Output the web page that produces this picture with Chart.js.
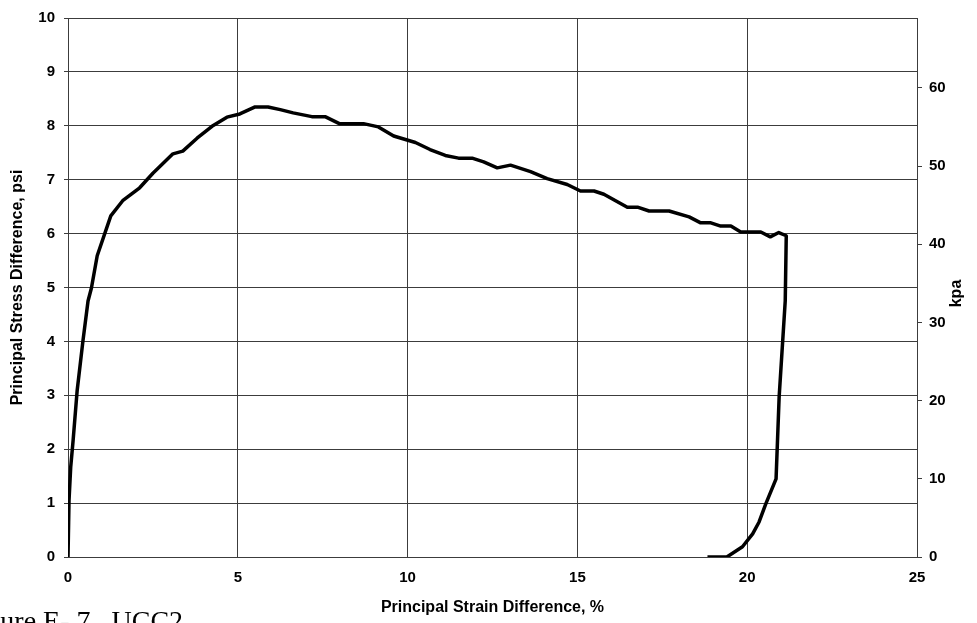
<!DOCTYPE html>
<html>
<head>
    <meta charset="UTF-8">
    <title>UCC2 stress-strain</title>
    <script src="https://cdn.jsdelivr.net/npm/chart.js"></script>
    <style>
        body { margin: 0; background: #fff; overflow: hidden; }
        #wrap { position: relative; width: 977px; height: 623px; overflow: hidden; }
        #caption {
            position: absolute; left: -37px; top: 607px;
            font-family: "Liberation Serif", serif; font-size: 28px; line-height: 28px;
            white-space: pre; color: #000;
        }
    </style>
</head>
<body>
    <div id="wrap">
        <canvas id="stressChart"></canvas>
        <div id="caption">Figure E- 7   UCC2</div>
    </div>

    <script>
        // strain (%) and principal stress difference (psi)
        var strain = [0, 0.03, 0.08, 0.15, 0.27, 0.44, 0.59, 0.69, 0.86, 1.26, 1.61, 2.11, 2.50, 3.09, 3.38,
            3.80, 4.24, 4.68, 5.06, 5.51, 5.89, 6.25, 6.63, 7.18, 7.57, 7.99, 8.70, 9.14, 9.59, 10.23,
            10.66, 11.11, 11.50, 11.90, 12.24, 12.64, 13.03, 13.62, 14.11, 14.70, 15.09, 15.49, 15.78,
            16.47, 16.77, 17.11, 17.70, 18.29, 18.63, 18.93, 19.22, 19.52, 19.81, 20.40, 20.68, 20.93,
            21.15, 21.12, 20.94, 20.85, 20.55, 20.35, 20.16, 19.86, 19.40, 18.83];
        var stress = [0, 1.05, 1.67, 2.16, 3.09, 4.01, 4.75, 4.99, 5.59, 6.33, 6.61, 6.85, 7.12, 7.48, 7.53,
            7.77, 7.99, 8.16, 8.22, 8.35, 8.35, 8.30, 8.24, 8.17, 8.17, 8.04, 8.04, 7.98, 7.81, 7.69,
            7.56, 7.45, 7.40, 7.40, 7.33, 7.22, 7.27, 7.15, 7.02, 6.91, 6.79, 6.79, 6.73,
            6.49, 6.49, 6.42, 6.42, 6.31, 6.20, 6.20, 6.14, 6.14, 6.03, 6.03, 5.94, 6.02,
            5.96, 4.75, 2.96, 1.45, 0.99, 0.65, 0.43, 0.19, 0, 0];

        var psiTicks = [0, 1, 2, 3, 4, 5, 6, 7, 8, 9, 10];
        var kpaTicks = [0, 10, 20, 30, 40, 50, 60];
        var strainTicks = [0, 5, 10, 15, 20, 25];
        var PSI_TO_KPA = 6.895;

        var gridColor = '#3c3c3c';
        var tickFont = { family: 'Liberation Sans, Arial, sans-serif', size: 15, weight: 'bold' };
        var titleFont = { family: 'Liberation Sans, Arial, sans-serif', size: 16, weight: 'bold' };

        // right axis title reads bottom-to-top, so draw it by hand
        var kpaTitle = {
            id: 'kpaTitle',
            afterDraw: function(chart) {
                var c = chart.ctx;
                c.save();
                c.translate(957, (chart.chartArea.top + chart.chartArea.bottom) / 2 + 6);
                c.rotate(-Math.PI / 2);
                c.font = 'bold 16px "Liberation Sans", Arial, sans-serif';
                c.fillStyle = '#000';
                c.textAlign = 'center';
                c.textBaseline = 'middle';
                c.fillText('kpa', 0, 0);
                c.restore();
            }
        };

        function createChart() {
            var ctx = document.getElementById('stressChart').getContext('2d');
            var points = [];
            for (var i = 0; i < strain.length; i++) {
                points.push({ x: strain[i], y: stress[i] });
            }
            new Chart(ctx, {
                type: 'scatter',
                data: {
                    datasets: [{
                        label: 'UCC2',
                        data: points,
                        showLine: true,
                        borderColor: '#000',
                        backgroundColor: '#000',
                        borderWidth: 3.5,
                        pointRadius: 0,
                        tension: 0,
                        borderJoinStyle: 'round',
                        yAxisID: 'y'
                    }]
                },
                plugins: [kpaTitle],
                options: {
                    responsive: true,
                    maintainAspectRatio: false,
                    animation: false,
                    layout: { padding: { top: 17, left: 0, right: 0, bottom: 0 } },
                    plugins: {
                        legend: { display: false },
                        tooltip: { enabled: false }
                    },
                    scales: {
                        x: {
                            type: 'linear',
                            min: 0, max: 25,
                            afterBuildTicks: function(s) { s.ticks = strainTicks.map(function(v) { return { value: v }; }); },
                            afterFit: function(s) { s.height = 66; },
                            grid: { color: gridColor, lineWidth: 1, drawTicks: false },
                            border: { color: gridColor },
                            ticks: { color: '#000', font: tickFont, padding: 12, maxRotation: 0 },
                            title: {
                                display: true, text: 'Principal Strain Difference, %',
                                color: '#000', font: titleFont, padding: { top: 0, bottom: 6 }
                            }
                        },
                        y: {
                            position: 'left',
                            min: 0, max: 10,
                            afterBuildTicks: function(s) { s.ticks = psiTicks.map(function(v) { return { value: v }; }); },
                            afterFit: function(s) { s.width = 68; },
                            grid: { color: gridColor, lineWidth: 1, tickLength: 4 },
                            border: { color: gridColor },
                            ticks: { color: '#000', font: tickFont, padding: 9 },
                            title: {
                                display: true, text: 'Principal Stress Difference, psi',
                                color: '#000', font: titleFont, padding: { top: 8, bottom: 0 }
                            }
                        },
                        y2: {
                            position: 'right',
                            min: 0, max: 10 * PSI_TO_KPA,
                            afterBuildTicks: function(s) { s.ticks = kpaTicks.map(function(v) { return { value: v }; }); },
                            afterFit: function(s) { s.width = 60; },
                            grid: { drawOnChartArea: false, color: gridColor, tickLength: 5 },
                            border: { color: gridColor },
                            ticks: { color: '#000', font: tickFont, padding: 7 }
                        }
                    }
                }
            });
        }
        createChart();
    </script>
</body>
</html>
